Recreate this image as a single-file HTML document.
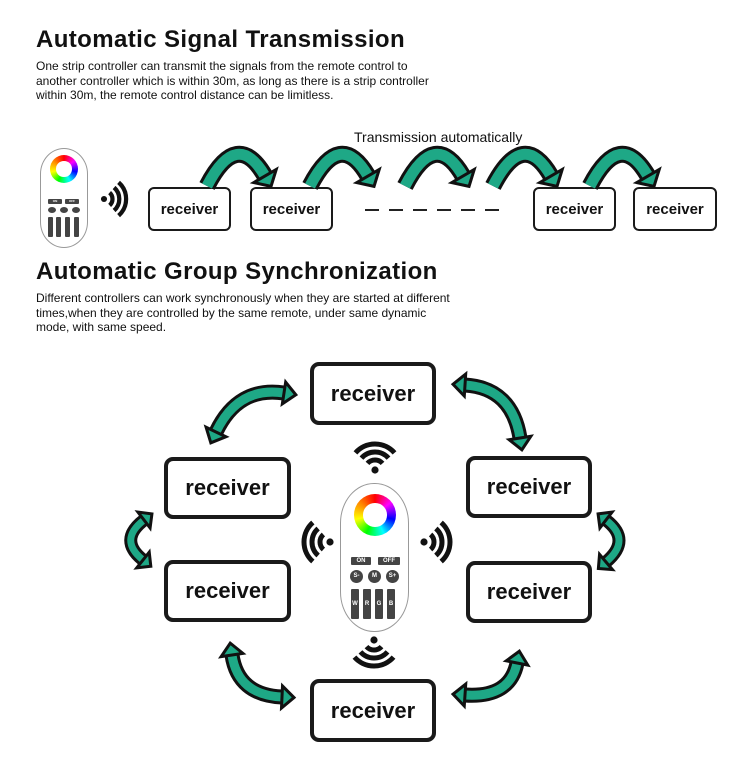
<!DOCTYPE html>
<html><head><meta charset="utf-8">
<style>
body{margin:0;background:#fff;}
#c{position:relative;width:750px;height:762px;overflow:hidden;font-family:"Liberation Sans",sans-serif;color:#111;}
.t{position:absolute;left:36px;font-weight:bold;font-size:24px;letter-spacing:0.4px;}
.p{position:absolute;left:36px;font-size:12px;line-height:14.5px;}
.box{position:absolute;box-sizing:border-box;border:2.5px solid #1a1a1a;border-radius:6px;display:flex;align-items:center;justify-content:center;font-weight:bold;font-size:15px;}
.bb{border-width:4px;border-radius:9px;font-size:22px;}
.rem{position:absolute;box-sizing:border-box;border:1px solid #999;background:#fff;}
.ring{position:absolute;border-radius:50%;background:conic-gradient(#f00,#f0f,#00f,#0ff,#0f0,#ff0,#f80,#f00);}
.ring::after{content:"";position:absolute;left:22%;top:22%;width:56%;height:56%;border-radius:50%;background:#fff;}
.k{position:absolute;background:#444;color:#fff;font-weight:bold;text-align:center;border-radius:1px;}
svg{position:absolute;left:0;top:0;}
</style></head><body><div id="c">
<div class="t" style="top:26px">Automatic Signal Transmission</div>
<div class="p" style="top:59px">One strip controller can transmit the signals from the remote control to<br>another controller which is within 30m, as long as there is a strip controller<br>within 30m, the remote control distance can be limitless.</div>
<div style="position:absolute;left:354px;top:129px;font-size:14px">Transmission automatically</div>
<div class="box" style="left:148px;top:187px;width:83px;height:44px">receiver</div>
<div class="box" style="left:250px;top:187px;width:83px;height:44px">receiver</div>
<div class="box" style="left:533px;top:187px;width:83px;height:44px">receiver</div>
<div class="box" style="left:633px;top:187px;width:84px;height:44px">receiver</div>
<div class="t" style="top:258px">Automatic Group Synchronization</div>
<div class="p" style="top:291px">Different controllers can work synchronously when they are started at different<br>times,when they are controlled by the same remote, under same dynamic<br>mode, with same speed.</div>
<div class="box bb" style="left:310px;top:362px;width:126px;height:63px">receiver</div>
<div class="box bb" style="left:164px;top:457px;width:127px;height:62px">receiver</div>
<div class="box bb" style="left:466px;top:456px;width:126px;height:62px">receiver</div>
<div class="box bb" style="left:164px;top:560px;width:127px;height:62px">receiver</div>
<div class="box bb" style="left:466px;top:561px;width:126px;height:62px">receiver</div>
<div class="box bb" style="left:310px;top:679px;width:126px;height:63px">receiver</div>

<div class="rem" style="left:40px;top:148px;width:48px;height:100px;border-radius:24px/26px">
 <div class="ring" style="left:9px;top:6px;width:28px;height:28px"></div>
 <div class="k" style="left:7px;top:50px;width:14px;height:5px;font-size:3px">ON</div>
 <div class="k" style="left:24px;top:50px;width:14px;height:5px;font-size:3px">OFF</div>
 <div class="k" style="left:7px;top:58px;width:8px;height:6px;border-radius:50%"></div>
 <div class="k" style="left:19px;top:58px;width:8px;height:6px;border-radius:50%"></div>
 <div class="k" style="left:31px;top:58px;width:8px;height:6px;border-radius:50%"></div>
 <div class="k" style="left:7px;top:68px;width:5px;height:20px"></div>
 <div class="k" style="left:15px;top:68px;width:5px;height:20px"></div>
 <div class="k" style="left:24px;top:68px;width:5px;height:20px"></div>
 <div class="k" style="left:33px;top:68px;width:5px;height:20px"></div>
</div>
<div class="rem" style="left:340px;top:483px;width:69px;height:149px;border-radius:34px/40px">
 <div class="ring" style="left:13px;top:10px;width:42px;height:42px"></div>
 <div class="k" style="left:10px;top:73px;width:20px;height:8px;font-size:6px;line-height:8px">ON</div>
 <div class="k" style="left:37px;top:73px;width:22px;height:8px;font-size:6px;line-height:8px">OFF</div>
 <div class="k" style="left:9px;top:86px;width:13px;height:13px;border-radius:50%;font-size:6px;line-height:13px">S-</div>
 <div class="k" style="left:27px;top:86px;width:13px;height:13px;border-radius:50%;font-size:6px;line-height:13px">M</div>
 <div class="k" style="left:45px;top:86px;width:13px;height:13px;border-radius:50%;font-size:6px;line-height:13px">S+</div>
 <div class="k" style="left:10px;top:105px;width:8px;height:30px;font-size:6px;line-height:30px">W</div>
 <div class="k" style="left:22px;top:105px;width:8px;height:30px;font-size:6px;line-height:30px">R</div>
 <div class="k" style="left:34px;top:105px;width:8px;height:30px;font-size:6px;line-height:30px">G</div>
 <div class="k" style="left:46px;top:105px;width:8px;height:30px;font-size:6px;line-height:30px">B</div>
</div>
<svg id="s" width="750" height="762" viewBox="0 0 750 762"></svg>
</div>
<script>
var s=document.getElementById('s'),NS='http://www.w3.org/2000/svg',T='#1ea886';
function el(n,a){var e=document.createElementNS(NS,n);for(var k in a)e.setAttribute(k,a[k]);s.appendChild(e);return e;}
for(var i=0;i<6;i++)el('line',{x1:365+i*24,y1:210,x2:379+i*24,y2:210,stroke:'#222','stroke-width':2});
function waves(cx,cy,ang,sc){var g=el('g',{transform:'translate('+cx+','+cy+') rotate('+ang+') scale('+sc+')'});
 function c(n,a){var e=document.createElementNS(NS,n);for(var k in a)e.setAttribute(k,a[k]);g.appendChild(e);}
 c('circle',{cx:0,cy:0,r:3.6,fill:'#111'});
 [10,18,26].forEach(function(r){var a=0.85;c('path',{d:'M'+(r*Math.cos(-a))+' '+(r*Math.sin(-a))+' A'+r+' '+r+' 0 0 1 '+(r*Math.cos(a))+' '+(r*Math.sin(a)),fill:'none',stroke:'#111','stroke-width':5});});}
waves(104,199,0,0.85);
waves(375,470,-90,1);waves(330,542,180,1);waves(424,542,0,1);waves(374,640,90,1);
function head(p,d,w,L,col,sw){var n=Math.hypot(d[0],d[1]);d=[d[0]/n,d[1]/n];var pp=[-d[1],d[0]];
 var pts=[[p[0]+d[0]*L,p[1]+d[1]*L],[p[0]+pp[0]*w,p[1]+pp[1]*w],[p[0]-pp[0]*w,p[1]-pp[1]*w]];
 el('polygon',{points:pts.map(function(a){return a.join(',')}).join(' '),fill:col,stroke:'#111','stroke-width':sw,'stroke-linejoin':'miter'});}
var A=[];
function arrow(p0,c,p1,both,bw,hw,hl){A.push([p0,c,p1,both,bw,hw,hl]);}
[207,310,405,493,590].forEach(function(x){arrow([x,186],[x+30,128],[x+58,176],false,11,13,12);});
arrow([216,432],[238,386],[284,393],true,9,11,12);
arrow([465,385],[512,388],[520,438],true,9,11,12);
arrow([144,520],[118,540],[143,560],true,7,10,10);
arrow([606,520],[632,540],[606,562],true,7,10,10);
arrow([232,655],[238,695],[282,697],true,9,11,12);
arrow([465,695],[510,698],[517,663],true,9,11,12);
A.forEach(function(a){var d='M'+a[0]+' Q'+a[1]+' '+a[2];
 el('path',{d:d,fill:'none',stroke:'#111','stroke-width':a[4]+6});});
A.forEach(function(a){var p0=a[0],c=a[1],p1=a[2];var d='M'+p0+' Q'+c+' '+p1;
 el('path',{d:d,fill:'none',stroke:T,'stroke-width':a[4]});
 head(p1,[p1[0]-c[0],p1[1]-c[1]],a[5],a[6],T,3);
 if(a[3])head(p0,[p0[0]-c[0],p0[1]-c[1]],a[5],a[6],T,3);});
</script>
</body></html>
